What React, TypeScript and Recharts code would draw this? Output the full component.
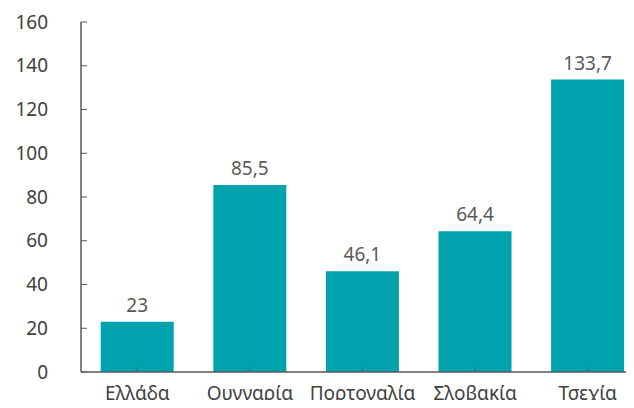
import React from 'react';
import { BarChart, Bar, XAxis, YAxis, LabelList } from 'recharts';

const countries = ['Ελλάδα', 'Ουγγαρία', 'Πορτογαλία', 'Σλοβακία', 'Τσεχία'];
const values = [23, 85.5, 46.1, 64.4, 133.7];
const yTicks = [0, 20, 40, 60, 80, 100, 120, 140, 160];

const data = countries.map((name, i) => ({ name, value: values[i] }));

const font = '"Noto Sans", sans-serif';

export default function App() {
  return (
    <div style={{ margin: -8, width: 634, height: 408, overflow: 'hidden', background: '#fff' }}>
      <BarChart
        width={650}
        height={408}
        data={data}
        margin={{ top: 22, right: 6, bottom: 0, left: 0 }}
        barCategoryGap="17.5%"
      >
        <XAxis
          dataKey="name"
          height={36}
          axisLine={{ stroke: '#595959', strokeWidth: 1.5 }}
          tickLine={{ stroke: '#595959' }}
          tickSize={-5}
          tickMargin={20}
          tick={{ fill: '#404040', fontSize: 19, fontFamily: font }}
          interval={0}
        />
        <YAxis
          width={81}
          domain={[0, 160]}
          ticks={yTicks}
          axisLine={{ stroke: '#595959', strokeWidth: 1.5 }}
          tickLine={{ stroke: '#595959' }}
          tickSize={-6}
          tickMargin={39}
          tick={{ fill: '#404040', fontSize: 19, fontFamily: font }}
        />
        <Bar dataKey="value" fill="#00A3AD" isAnimationActive={false}>
          <LabelList
            dataKey="value"
            position="top"
            offset={10}
            fill="#595959"
            fontSize={19}
            fontFamily={font}
            formatter={(v: any) => String(v).replace('.', ',')}
          />
        </Bar>
      </BarChart>
    </div>
  );
}
